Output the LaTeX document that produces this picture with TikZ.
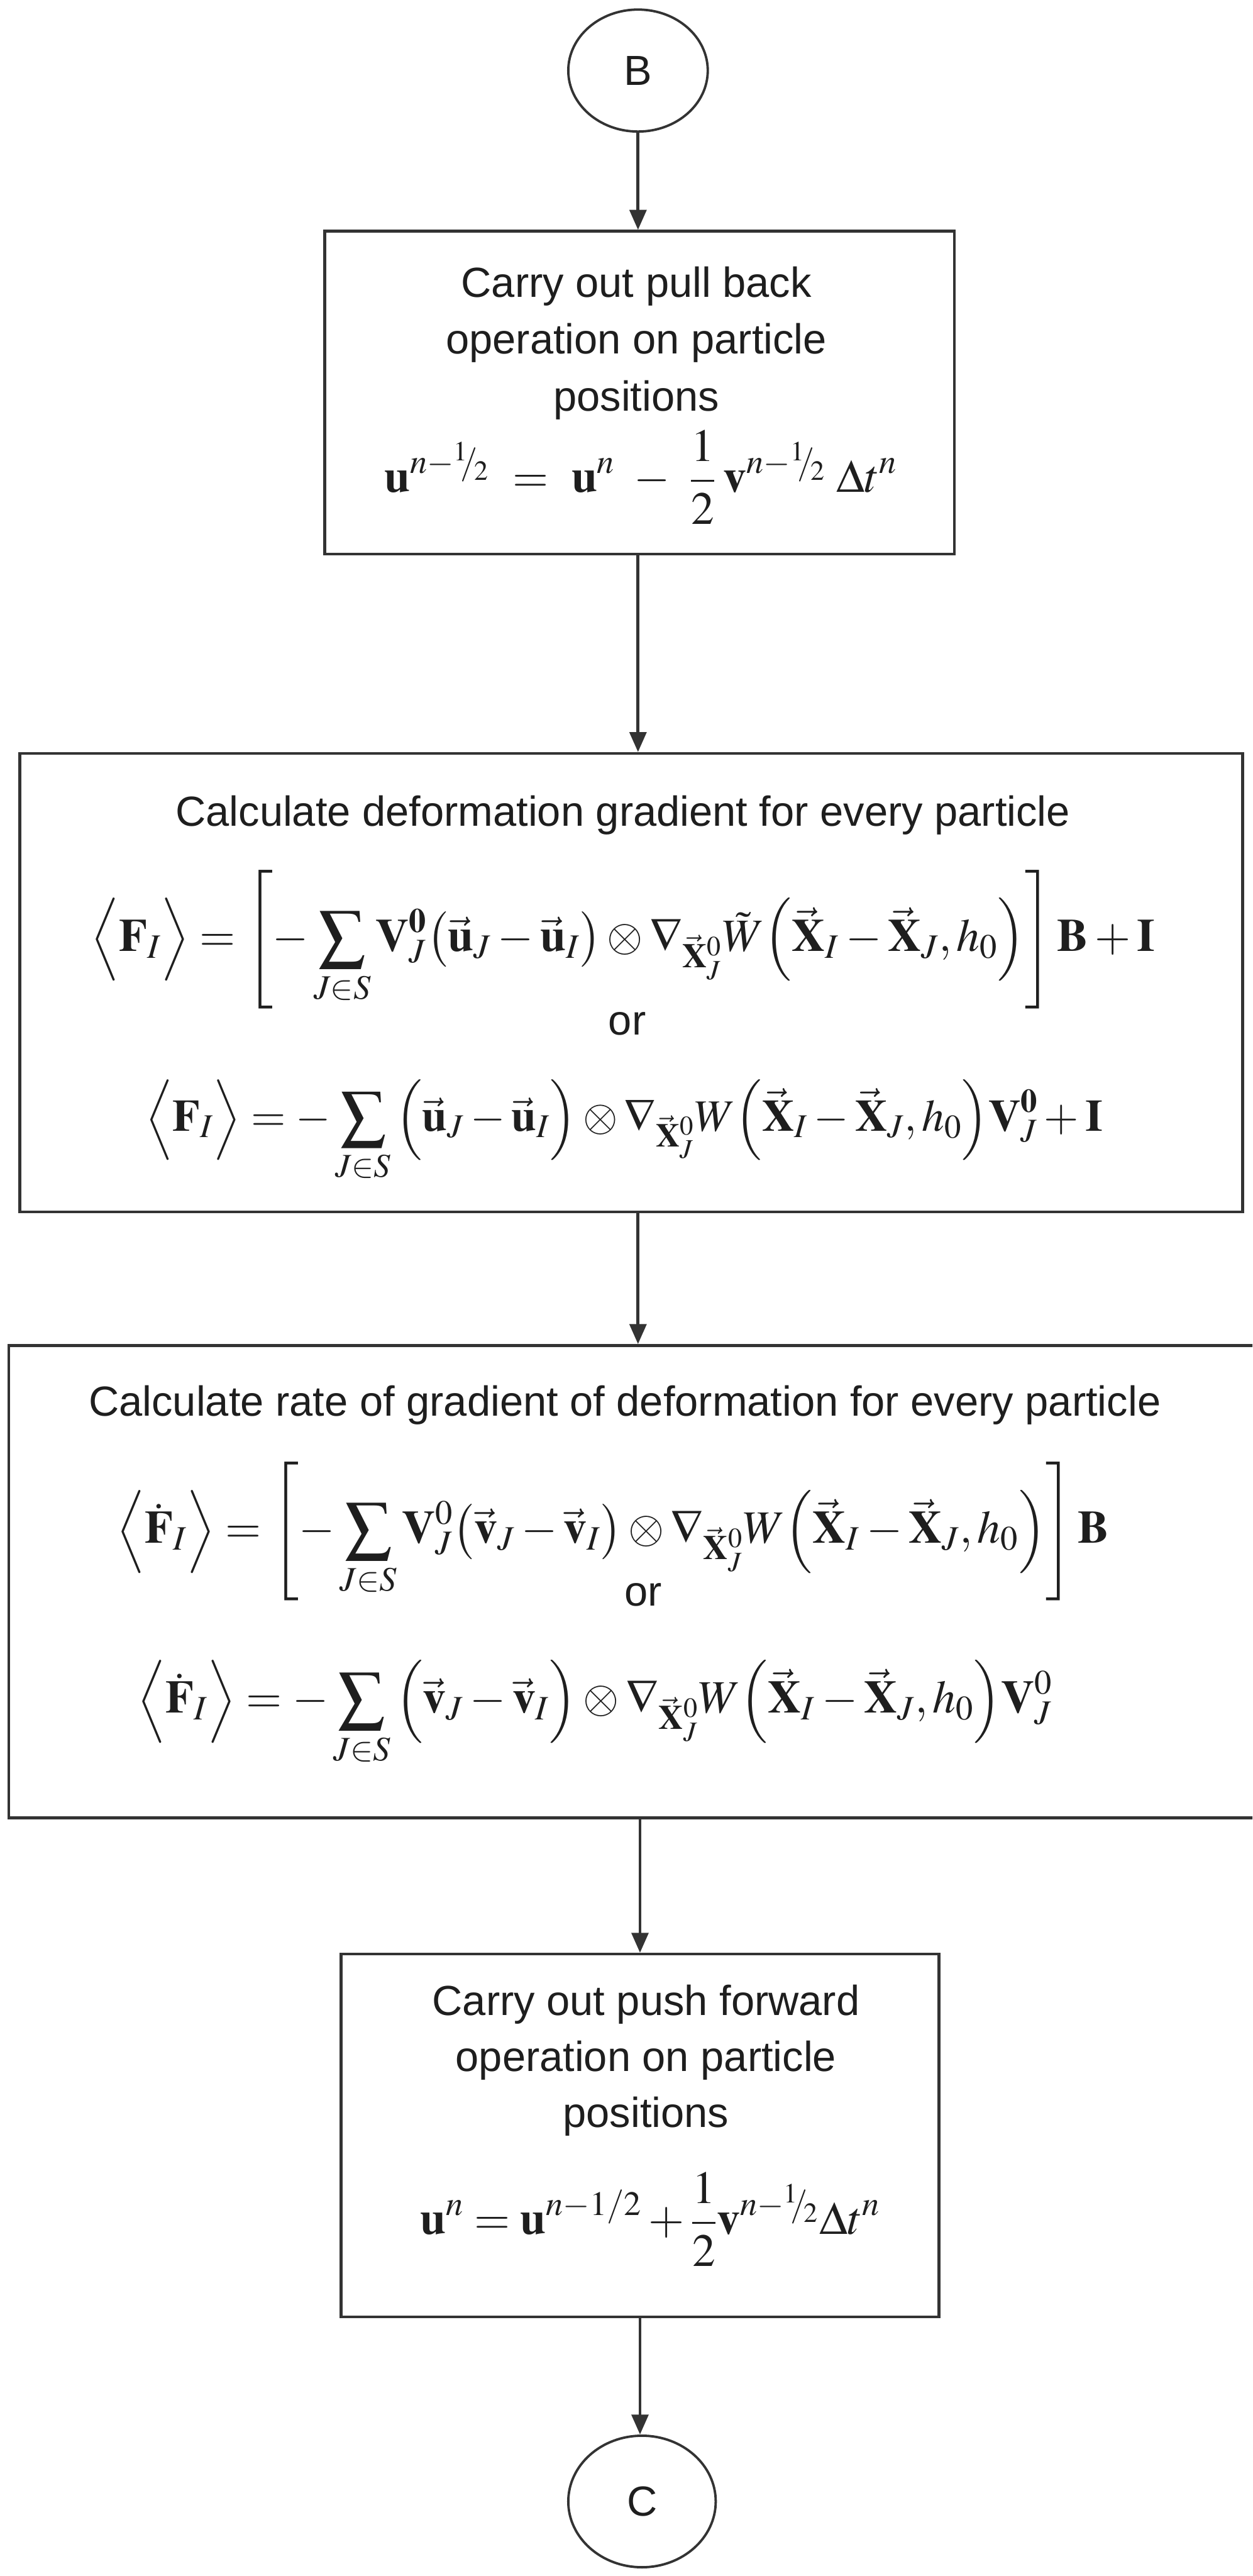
\documentclass[tikz,border=0pt]{standalone}
\usepackage{amsmath}
\usepackage{mathptmx}
\usepackage[no-math]{fontspec}
\setmainfont{Liberation Sans}
\usetikzlibrary{shapes.geometric,arrows.meta}
\definecolor{linec}{HTML}{333333}
\definecolor{textc}{HTML}{1E1E1E}
\newcommand{\hlf}{{}^{1}\!\!/\!{}_{2}}
\newcommand{\vb}[1]{\vec{\mathbf{#1}}}
\tikzset{
  boxst/.style={draw=linec, line width=0.07cm, rectangle, inner sep=0pt},
  ell/.style={draw=linec, line width=0.06cm, ellipse, inner sep=0pt, text=textc, font=\fontsize{30}{36}\selectfont},
  arr/.style={draw=linec, line width=0.075cm, -{Triangle[width=0.42cm,length=0.5cm]}},
  txt/.style={anchor=base, inner sep=0pt, text=textc, font=\fontsize{30}{36}\selectfont},
  eqn/.style={anchor=base, inner sep=0pt, text=textc, font=\fontsize{33}{40}\selectfont}
}
\begin{document}
\begin{tikzpicture}
\useasboundingbox (0,0) rectangle (31.43,-64.62);
\clip (0,0) rectangle (31.43,-64.62);
\fill[white] (0,0) rectangle (31.43,-64.62);

% start connector
\node[ell, minimum width=3.5cm, minimum height=3.06cm] (B) at (16.01,-1.77) {B};

% box 1
\node[boxst, minimum width=15.8cm, minimum height=8.1cm] (box1) at (16.05,-9.85) {};
\node[txt] (b1a) at (15.97,-7.45) {Carry out pull back};
\node[txt] (b1b) at (15.97,-8.88) {operation on particle};
\node[txt] (b1c) at (15.97,-10.31) {positions};
\node[eqn] (b1eq) at (16.08,-12.35) {$\displaystyle \mathbf{u}^{n-\hlf}\mskip5mu=\mskip5mu\mathbf{u}^{n}\mskip5mu-\mskip5mu\frac{1}{2}\mskip3mu\mathbf{v}^{n-\hlf}\mskip4mu\Delta t^{n}$};

% box 2
\node[boxst, minimum width=30.68cm, minimum height=11.5cm] (box2) at (15.84,-24.65) {};
\node[txt] (b2a) at (15.63,-20.72) {Calculate deformation gradient for every particle};
\node[eqn] (b2eq1) at (15.63,-23.86) {$\displaystyle \Big\langle \mathbf{F}_{I}\Big\rangle=\left[-\sum_{J\in S}\mathbf{V}_{J}^{\mathbf{0}}\big(\vb{u}_{J}-\vb{u}_{I}\big)\otimes\nabla_{\vb{X}_{J}^{0}}\tilde{W}\Big(\vb{X}_{I}-\vb{X}_{J},h_{0}\Big)\right]\mathbf{B}+\mathbf{I}$};
\node[txt] (b2or) at (15.74,-25.96) {or};
\node[eqn, font=\fontsize{32}{38}\selectfont] (b2eq2) at (15.66,-28.37) {$\displaystyle \Big\langle \mathbf{F}_{I}\Big\rangle=-\sum_{J\in S}\Big(\vb{u}_{J}-\vb{u}_{I}\Big)\otimes\nabla_{\vb{X}_{J}^{0}}W\Big(\vb{X}_{I}-\vb{X}_{J},h_{0}\Big)\mathbf{V}_{J}^{\mathbf{0}}+\mathbf{I}$};

% box 3
\node[boxst, minimum width=31.8cm, minimum height=11.85cm] (box3) at (16.12,-39.675) {};
\node[txt] (b3a) at (15.68,-35.52) {Calculate rate of gradient of deformation for every particle};
\node[eqn] (b3eq1) at (15.38,-38.71) {$\displaystyle \Big\langle \dot{\mathbf{F}}_{I}\Big\rangle=\left[-\sum_{J\in S}\mathbf{V}_{J}^{0}\big(\vb{v}_{J}-\vb{v}_{I}\big)\otimes\nabla_{\vb{X}_{J}^{0}}W\Big(\vb{X}_{I}-\vb{X}_{J},h_{0}\Big)\right]\mathbf{B}$};
\node[txt] (b3or) at (16.14,-40.28) {or};
\node[eqn] (b3eq2) at (14.93,-42.97) {$\displaystyle \Big\langle \dot{\mathbf{F}}_{I}\Big\rangle=-\sum_{J\in S}\Big(\vb{v}_{J}-\vb{v}_{I}\Big)\otimes\nabla_{\vb{X}_{J}^{0}}W\Big(\vb{X}_{I}-\vb{X}_{J},h_{0}\Big)\mathbf{V}_{J}^{0}$};

% box 4
\node[boxst, minimum width=15.0cm, minimum height=9.1cm] (box4) at (16.06,-53.57) {};
\node[txt] (b4a) at (16.21,-50.56) {Carry out push forward};
\node[txt] (b4b) at (16.21,-51.96) {operation on particle};
\node[txt] (b4c) at (16.21,-53.37) {positions};
\node[eqn] (b4eq) at (16.32,-56.05) {$\displaystyle \mathbf{u}^{n}=\mathbf{u}^{n-1/2}+\frac{1}{2}\mathbf{v}^{n-\hlf}\Delta t^{n}$};

% end connector
\node[ell, minimum width=3.7cm, minimum height=3.3cm] (C) at (16.11,-62.75) {C};

% connectors
\draw[arr] (B.south) -- (B.south |- box1.north);
\draw[arr] (B.south |- box1.south) -- (B.south |- box2.north);
\draw[arr] (B.south |- box2.south) -- (B.south |- box3.north);
\draw[arr] (box4.north |- box3.south) -- (box4.north);
\draw[arr] (box4.south) -- (box4.south |- C.north);
\end{tikzpicture}
\end{document}
